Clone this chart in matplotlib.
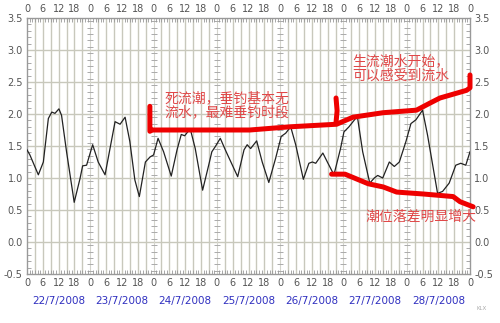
import numpy as np
import matplotlib
matplotlib.use("Agg")
import matplotlib.pyplot as plt

# Tide level, hours from 22/7/2008 00:00
hours = [0, 1.1, 4.3, 6.2, 8.1, 9.4, 10.6, 12.1, 13.1, 15, 17.9, 20.1, 21.1, 22.6,
         24.9, 27, 29.6, 33.4, 35.3, 37.2, 39, 40.9, 42.6, 44.9, 46.7, 48, 49.7,
         51.8, 54.7, 56.9, 58.5, 59.8, 61.9, 63.8, 66.6, 68.9, 70.1, 71.4, 73.3,
         75.2, 79.9, 82.3, 83.5, 84.8, 87.1, 89.2, 91.7, 94.3, 96.4, 98.1, 100,
         101.9, 104.8, 106.9, 108.2, 109.5, 112.2, 113.9, 116.4, 118.9, 120.2,
         122.1, 124.6, 125.4, 127.3, 130, 131.7, 133, 134.9, 137.4, 139.3, 141.2,
         143.7, 145.6, 147.5, 150, 151.9, 155.7, 157.6, 160.1, 162.6, 164.5,
         166.4, 168]
level = [1.44, 1.36, 1.05, 1.25, 1.93, 2.03, 2.01, 2.08, 1.98, 1.41, 0.62, 0.99,
         1.19, 1.20, 1.52, 1.25, 1.05, 1.88, 1.84, 1.95, 1.57, 0.97, 0.71, 1.25,
         1.33, 1.36, 1.62, 1.41, 1.03, 1.44, 1.68, 1.66, 1.77, 1.46, 0.81, 1.20,
         1.41, 1.49, 1.62, 1.44, 1.02, 1.44, 1.52, 1.46, 1.58, 1.25, 0.93, 1.31,
         1.65, 1.70, 1.80, 1.52, 0.98, 1.23, 1.25, 1.23, 1.39, 1.25, 1.05, 1.46,
         1.72, 1.80, 1.93, 1.93, 1.41, 0.92, 1.00, 1.04, 1.00, 1.25, 1.18, 1.25,
         1.57, 1.85, 1.91, 2.06, 1.67, 0.76, 0.79, 0.92, 1.20, 1.23, 1.20, 1.41]

dates = ["22/7/2008", "23/7/2008", "24/7/2008", "25/7/2008",
         "26/7/2008", "27/7/2008", "28/7/2008"]

# hand-drawn marker strokes
upper_h = [46.6, 46.6, 47.4, 84.5, 99.7, 117.4, 123.6, 135, 147.7, 152.8, 156.6, 166.7, 168, 168]
upper_v = [2.12, 1.73, 1.75, 1.75, 1.80, 1.84, 1.95, 2.02, 2.06, 2.17, 2.25, 2.37, 2.41, 2.61]
pointer_h = [117.2, 117.6, 117.2]
pointer_v = [2.25, 2.05, 1.87]
lower_h = [115.5, 120.6, 129.4, 135.1, 140.2, 150.3, 161.6, 164.2, 169.2]
lower_v = [1.06, 1.06, 0.91, 0.86, 0.78, 0.75, 0.71, 0.63, 0.55]

notes = [
    (52.3, 2.14, "死流潮，垂钓基本无\n流水，最难垂钓时段"),
    (123.2, 2.71, "生流潮水开始，\n可以感受到流水"),
    (128.2, 0.39, "潮位落差明显增大"),
]

plt.rcParams["font.family"] = ["DejaVu Sans"]
grid_c = "#c8c8bc"
tick_c = "#555555"

fig = plt.figure(figsize=(5, 3.23), dpi=100)
ax = fig.add_axes([27 / 500, 1 - 274 / 323, 443 / 500, 256 / 323])
ax.set_xlim(0, 168)
ax.set_ylim(-0.5, 3.5)

# grid: every 3 h vertically, every 0.5 horizontally
for h in np.arange(3, 168, 3):
    if h % 24:
        ax.axvline(h, color=grid_c, lw=1.0, zorder=0)
for v in np.arange(0, 3.5, 0.5):
    ax.axhline(v, color=grid_c, lw=1.0, zorder=0)
# day boundaries with small level marks
for d in range(1, 7):
    ax.axvline(d * 24, color="#d4d4cc", lw=0.8, zorder=0)
    ax.plot([d * 24] * 40, np.arange(-0.45, 3.5, 0.1), ls="none", marker="_",
            ms=4, mew=0.7, color="#aaaaaa", zorder=0)

ax.plot(hours, level, color="#222222", lw=0.9, zorder=3)

red = "#ee0000"
for xs, ys in [(upper_h, upper_v), (pointer_h, pointer_v), (lower_h, lower_v)]:
    ax.plot(xs, ys, color=red, lw=3.6, solid_capstyle="round",
            solid_joinstyle="round", zorder=4, clip_on=False)

for x, y, s in notes:
    ax.text(x, y, s, color="#e04848", fontsize=10, va="center", ha="left",
            linespacing=1.0, family=["Noto Sans CJK SC", "DejaVu Sans"], zorder=5)

ax.set_xticks(np.arange(0, 169, 6))
ax.set_xticklabels([str(h % 24) for h in range(0, 169, 6)])
ax.set_xticks(np.arange(0, 169, 1), minor=True)
ax.set_yticks(np.arange(-0.5, 3.51, 0.5))
ax.set_yticklabels([f"{v:.1f}" for v in np.arange(-0.5, 3.51, 0.5)])
ax.set_yticks(np.arange(-0.5, 3.51, 0.1), minor=True)
ax.tick_params(which="both", direction="in", top=True, right=True,
               labeltop=True, labelright=True, color="#999999")
ax.tick_params(which="major", length=0, labelsize=7, labelcolor=tick_c, pad=3)
ax.tick_params(which="minor", length=3, width=0.6)
for s in ax.spines.values():
    s.set_color("#999999")
    s.set_linewidth(1.0)

for i, d in enumerate(dates):
    ax.text(i * 24 + 12, -0.92, d, ha="center", va="center", fontsize=7.5,
            color="#3030c0", clip_on=False)

fig.text(482 / 500, 1 - 310 / 323, "KLX", fontsize=4, color="#aaaaaa", ha="center")

fig.savefig("out.png", dpi=100, facecolor="white")
